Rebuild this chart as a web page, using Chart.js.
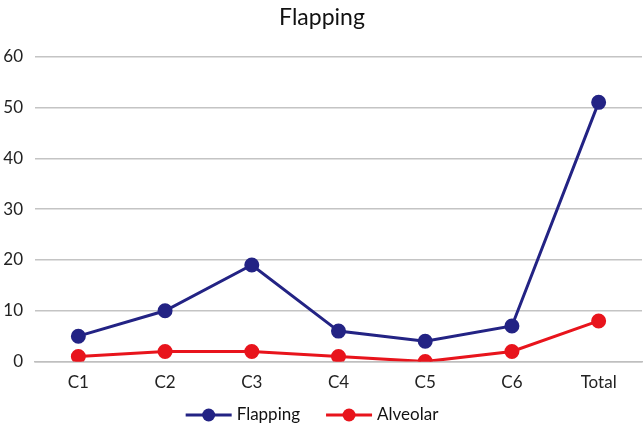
<!DOCTYPE html>
<html>
<head>
<meta charset="utf-8">
<script src="https://cdn.jsdelivr.net/npm/chart.js@4/dist/chart.umd.min.js"></script>
<style>
  html, body { margin: 0; padding: 0; background: #fff; }
  #wrap { width: 644px; height: 427px; }
</style>
</head>
<body>
<div id="wrap"><canvas id="chart" width="644" height="427"></canvas></div>
<script>
// データ
const categories = ['C1', 'C2', 'C3', 'C4', 'C5', 'C6', 'Total'];
const flapping = [5, 10, 19, 6, 4, 7, 51];
const alveolar = [1, 2, 2, 1, 0, 2, 8];
const yTicks = [0, 10, 20, 30, 40, 50, 60];

const navy = '#232384';
const red = '#E8141C';
const font = 'Lato, "Open Sans", sans-serif';

// 凡例を下に描く（線＋丸のマーカー）
const lineLegend = {
    id: 'lineLegend',
    afterDraw(chart) {
        const ctx = chart.ctx;
        const sets = chart.data.datasets;
        ctx.save();
        ctx.font = '17px ' + font;
        ctx.textBaseline = 'middle';
        const markerW = 46, gap = 5, spacing = 26;
        const widths = sets.map(ds => markerW + gap + ctx.measureText(ds.label).width);
        const total = widths.reduce((a, b) => a + b, 0) + spacing * (sets.length - 1);
        let x = 312 - total / 2;
        const y = 415;
        sets.forEach((ds, i) => {
            ctx.strokeStyle = ds.borderColor;
            ctx.lineWidth = 3;
            ctx.beginPath(); ctx.moveTo(x, y); ctx.lineTo(x + markerW, y); ctx.stroke();
            ctx.fillStyle = ds.borderColor;
            ctx.beginPath(); ctx.arc(x + markerW / 2, y, 6.5, 0, Math.PI * 2); ctx.fill();
            ctx.fillStyle = '#111';
            ctx.fillText(ds.label, x + markerW + gap, y);
            x += widths[i] + spacing;
        });
        ctx.restore();
    }
};

new Chart(document.getElementById('chart'), {
    type: 'line',
    data: {
        labels: categories,
        datasets: [
            {
                label: 'Flapping',
                data: flapping,
                borderColor: navy,
                backgroundColor: navy,
                pointBackgroundColor: navy,
                borderWidth: 3,
                pointRadius: 6,
                tension: 0
            },
            {
                label: 'Alveolar',
                data: alveolar,
                borderColor: red,
                backgroundColor: red,
                pointBackgroundColor: red,
                borderWidth: 3,
                pointRadius: 6,
                tension: 0
            }
        ]
    },
    plugins: [lineLegend],
    options: {
        responsive: false,
        animation: false,
        layout: { autoPadding: false, padding: { left: 2, right: 2, top: 2, bottom: 23 } },
        scales: {
            x: {
                offset: true,
                grid: { display: false, drawTicks: false },
                border: { color: '#BFBFBF', width: 1.5 },
                ticks: { color: '#222', font: { family: font, size: 17 }, padding: 11 }
            },
            y: {
                min: 0,
                max: 60,
                afterBuildTicks: axis => { axis.ticks = yTicks.map(v => ({ value: v })); },
                afterFit: axis => { axis.width = 33; },
                grid: { color: '#C4C4C4', lineWidth: 1.5, drawTicks: false },
                border: { display: false },
                ticks: { color: '#222', font: { family: font, size: 17 }, padding: 12 }
            }
        },
        plugins: {
            title: {
                display: true,
                text: 'Flapping',
                color: '#111',
                font: { family: font, size: 23, weight: 'normal' },
                padding: { top: 2, bottom: 25 }
            },
            legend: { display: false },
            tooltip: { enabled: false }
        }
    }
});
</script>
</body>
</html>
